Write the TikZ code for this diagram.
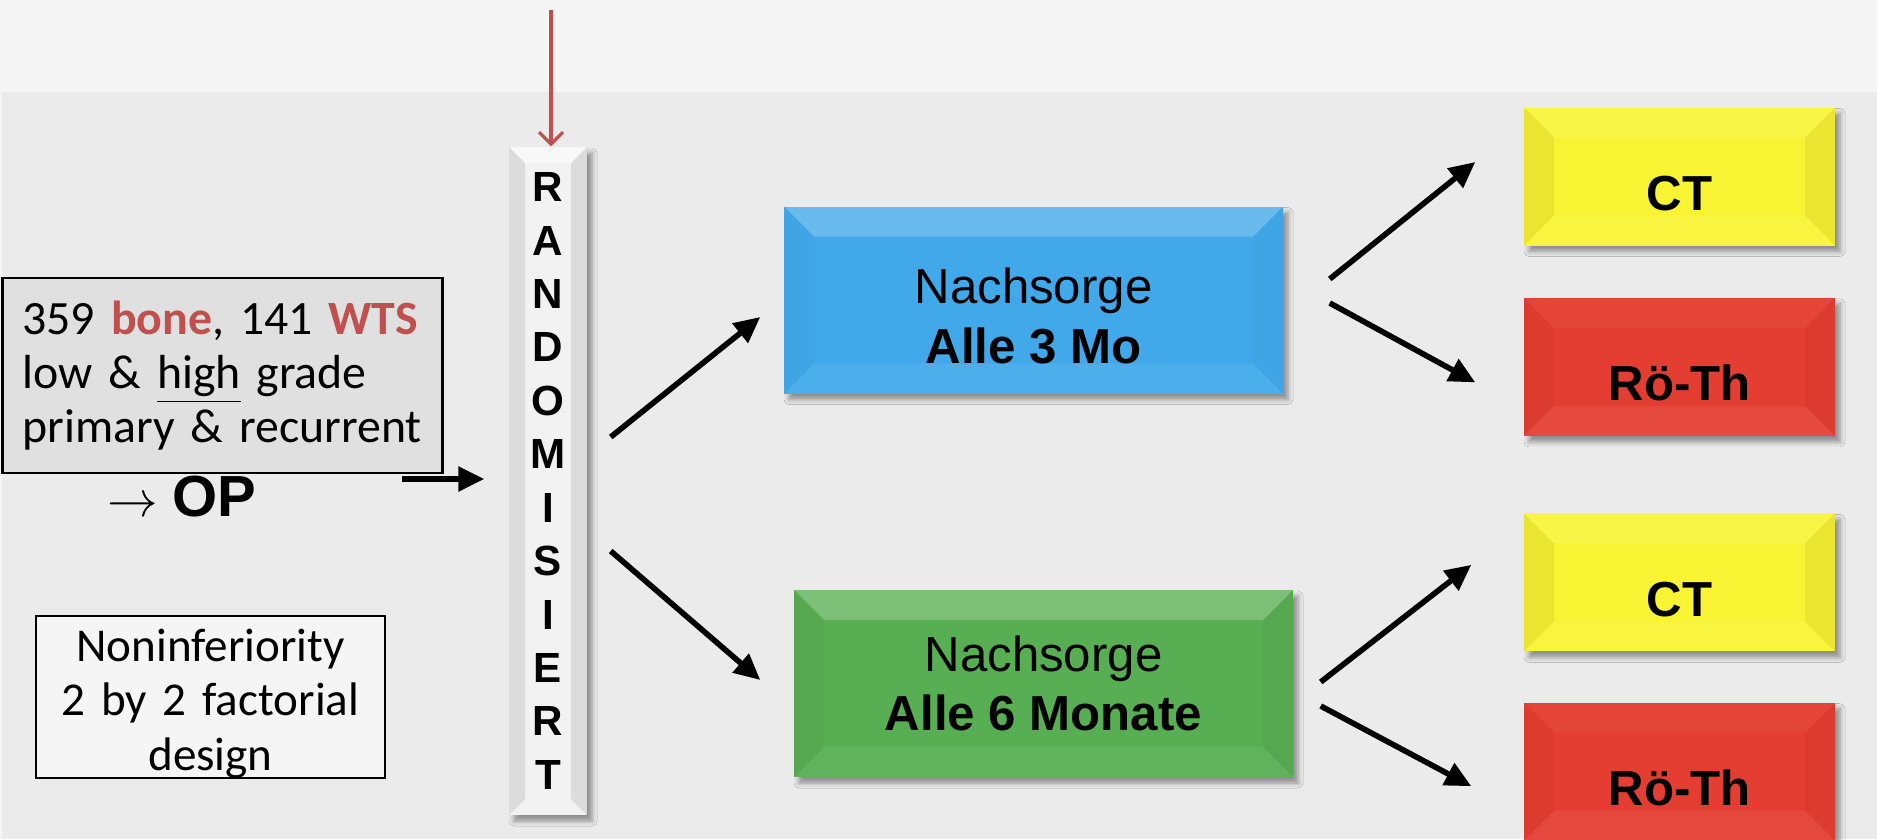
\documentclass[tikz,border=0pt]{standalone}
\usepackage{fontspec}
\setmainfont{Liberation Sans}
\newfontfamily\notefont{Carlito}
\usetikzlibrary{arrows.meta,positioning,calc,shadows.blur}
\definecolor{bandbg}{HTML}{F5F5F5}
\definecolor{panelbg}{HTML}{EBEBEB}
\definecolor{cohortgray}{HTML}{E0E0E0}
\definecolor{planblue}{HTML}{41A9E9}
\definecolor{plangreen}{HTML}{58AE52}
\definecolor{ctyellow}{HTML}{F8F433}
\definecolor{rtred}{HTML}{E43D31}
\definecolor{markred}{HTML}{C0504D}
\definecolor{barwhite}{HTML}{F2F2F2}

\tikzset{
  % raised look: #1 edge width, #2 top highlight, #3 side shade
  bevel/.style n args={3}{path picture={
      \path (path picture bounding box.south west) coordinate (bsw)
            (path picture bounding box.north east) coordinate (bne);
      \fill[white, opacity=#2] (bsw |- bne) -- (bne) -- ++(-#1,-#1) -- ($(bsw |- bne)+(#1,-#1)$) -- cycle;
      \fill[black, opacity=#3] (bsw) -- (bsw |- bne) -- ++(#1,-#1) -- ($(bsw)+(#1,#1)$) -- cycle;
      \fill[black, opacity=#3] (bne) -- (bne |- bsw) -- ++(-#1,#1) -- ($(bne)+(-#1,-#1)$) -- cycle;
      \fill[white, opacity=0.06] (bsw) -- (bne |- bsw) -- ++(-#1,#1) -- ($(bsw)+(#1,#1)$) -- cycle;
  }},
  softshadow/.style={blur shadow={shadow xshift=0.05cm, shadow yshift=-0.06cm, shadow blur radius=0.05cm, shadow opacity=40}},
  randbar/.style={fill=barwhite, minimum width=0.78cm, minimum height=6.68cm, bevel={0.16cm}{0.5}{0.09}, softshadow,
      align=center, font=\fontsize{12}{15.2}\selectfont\bfseries},
  planbox/.style={minimum width=4.99cm, minimum height=1.87cm, softshadow,
      align=center, font=\fontsize{14}{17}\selectfont},
  smallbox/.style={minimum width=3.11cm, minimum height=1.38cm, softshadow,
      text height=0.68cm, text depth=0cm, font=\fontsize{14}{17}\selectfont\bfseries},
  cohortbox/.style={draw, line width=0.6pt, fill=cohortgray, text width=4cm, inner xsep=0.2cm,
      minimum height=1.95cm, align=left, font=\notefont\fontsize{13.6}{15.4}\selectfont},
  designbox/.style={draw, line width=0.6pt, fill=bandbg, text width=3.49cm, inner xsep=0pt, inner ysep=0pt,
      minimum height=1.62cm, text height=0.35cm, text depth=1.07cm, align=center,
      font=\notefont\fontsize{13.4}{15.6}\selectfont},
  flow/.style={line width=1.6pt, -{Triangle[length=0.26cm, width=0.24cm]}},
  entryarrow/.style={draw=markred, line width=0.9pt, -{Straight Barb[length=0.12cm, width=0.24cm]}}
}

\begin{document}
\begin{tikzpicture}
  \useasboundingbox (0,0) rectangle (18.77,8.39);
  % Background band and panel
  \fill[bandbg] (0,0) rectangle (18.77,8.39);
  \fill[panelbg] (0.02,0) rectangle (18.77,7.47);

  % Left notes
  \node[cohortbox] (cohort) at (2.225,4.635) {359 \textbf{\textcolor{markred}{bone}}, 141 \textbf{\textcolor{markred}{WTS}}\\
    low \& \underline{high} grade\\
    primary \& recurrent};
  \node[font=\fontsize{15}{15}\selectfont] (op) at (1.82,3.42) {$\rightarrow$ {\fontsize{16.5}{16.5}\selectfont\bfseries OP}};
  \node[designbox] (design) at (2.105,1.42) {Noninferiority\\2 by 2 factorial\\design};

  % Randomisation bar
  \node[randbar] (rand) at (5.48,3.58) {R\\A\\N\\D\\O\\M\\I\\S\\I\\E\\R\\T};

  % Follow-up arms
  \node[planbox, fill=planblue, bevel={0.3cm}{0.22}{0.02}, text height=1.3cm, text depth=0.03cm] (plan3) at (10.335,5.39) {Nachsorge\\\textbf{Alle 3 Mo}};
  \node[planbox, fill=plangreen, bevel={0.3cm}{0.22}{0.03}] (plan6) at (10.435,1.555) {Nachsorge\\\textbf{Alle 6 Monate}};

  % Imaging boxes
  \node[smallbox, fill=ctyellow, bevel={0.3cm}{0.1}{0.06}] (ctA) at (16.795,6.625) {CT};
  \node[smallbox, fill=rtred, bevel={0.3cm}{0.04}{0.03}, below=0.51cm of ctA] (rtA) {Rö-Th};
  \node[smallbox, fill=ctyellow, bevel={0.3cm}{0.1}{0.06}, below=0.76cm of rtA] (ctB) {CT};
  \node[smallbox, fill=rtred, bevel={0.3cm}{0.04}{0.03}, below=0.50cm of ctB] (rtB) {Rö-Th};

  % Arrows
  \coordinate (entry) at (5.51,8.29);
  \draw[entryarrow] (entry) -- (entry |- rand.north);
  \coordinate (opline) at (4.02,3.60);
  \draw[flow] (opline) -- ($(opline -| rand.west)+(-0.24,0)$);
  \draw[flow] ($(rand.east)+(0.23,0.44)$) -- ($(plan3.west)+(-0.23,-0.17)$);
  \draw[flow] ($(rand.east)+(0.23,-0.70)$) -- ($(plan6.west)+(-0.33,0.035)$);
  \draw[flow] ($(plan3.east)+(0.46,0.21)$) -- ($(ctA.west)+(-0.48,0.145)$);
  \draw[flow] ($(plan3.east)+(0.46,-0.03)$) -- ($(rtA.west)+(-0.48,-0.155)$);
  \draw[flow] ($(plan6.east)+(0.27,0.015)$) -- ($(ctB.west)+(-0.52,0.175)$);
  \draw[flow] ($(plan6.east)+(0.27,-0.225)$) -- ($(rtB.west)+(-0.52,-0.145)$);
\end{tikzpicture}
\end{document}
